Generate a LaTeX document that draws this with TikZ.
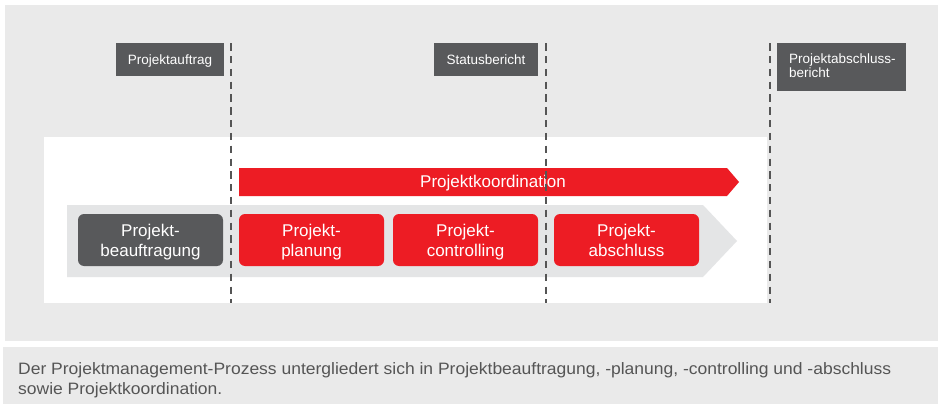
\documentclass[tikz,border=0pt]{standalone}
\usepackage{fontspec}
\setmainfont{Liberation Sans}
\definecolor{panelgrey}{HTML}{EAEAEA}
\definecolor{chevgrey}{HTML}{E4E5E6}
\definecolor{darkgrey}{HTML}{58595B}
\definecolor{pmred}{HTML}{ED1C24}
\definecolor{captiontext}{HTML}{555555}
\definecolor{dashgrey}{HTML}{555555}
\newcommand{\topstrut}{\rule{0pt}{17pt}}
\newcommand{\botstrut}{\rule[-3.6pt]{0pt}{3.6pt}}
\begin{document}
\begin{tikzpicture}[x=1pt,y=-1pt,
  phase/.style={rounded corners=6pt, minimum width=145pt, minimum height=52pt, inner sep=0pt,
    align=center, text=white, font=\fontsize{17}{20}\selectfont},
  lab/.style={fill=darkgrey, text=white, inner sep=0pt, minimum height=33pt,
    text height=11pt, text depth=0pt, font=\fontsize{13.5}{14}\selectfont},
  divider/.style={draw=dashgrey, line width=2.1pt, dash pattern=on 7.3pt off 5.5pt}
]
\useasboundingbox (0,0) rectangle (938,404);
% panels
\fill[panelgrey] (5,5) rectangle (938,341);
\fill[white] (44,137) rectangle (767,303);
% grey chevron
\fill[chevgrey] (67,205) -- (703,205) -- (737,241) -- (703,277) -- (67,277) -- cycle;
% red arrow
\fill[pmred] (239,168) -- (727,168) -- (739,182) -- (727,196) -- (239,196) -- cycle;
\node[text=white, font=\fontsize{17}{20}\selectfont, inner sep=0pt] (koord) at (493,183.3) {Projektkoordination};
% phases
\node[phase, fill=darkgrey] (beauf) at (150.5,240) {\topstrut Projekt-\\beauftragung\botstrut};
\node[phase, fill=pmred] (plan) at (311.5,240) {\topstrut Projekt-\\planung\botstrut};
\node[phase, fill=pmred] (contr) at (465.5,240) {\topstrut Projekt-\\controlling\botstrut};
\node[phase, fill=pmred] (abschl) at (626.5,240) {\topstrut Projekt-\\abschluss\botstrut};
% dividers
\coordinate (d1t) at (231,43.3); \coordinate (d1b) at (231,303);
\coordinate (d2t) at (546,43.3); \coordinate (d2b) at (546,303);
\coordinate (d3t) at (770,43.3); \coordinate (d3b) at (770,303);
\draw[divider] (d1t) -- (d1b);
\draw[divider] (d2t) -- (d2b);
\draw[divider] (d3t) -- (d3b);
% labels
\node[lab, minimum width=108pt] (auftrag) at (170,59.5) {Projektauftrag};
\node[lab, minimum width=104pt] (status) at (486,59.5) {Statusbericht};
\node[fill=darkgrey, anchor=north west, minimum width=129pt, minimum height=48pt, inner sep=0pt] (abschlb) at (777,43) {};
\node[anchor=north west, inner sep=0pt, align=left, text=white,
  font=\fontsize{13.5}{14}\selectfont] (abschlbtext) at (789,53.8) {Projektabschluss-\\bericht};
% caption
\fill[panelgrey] (3,347) rectangle (938,404);
\node[anchor=north west, inner sep=0pt, text=captiontext] (caption) at (18,359.8)
  {\scalebox{1.06}[1]{\fontsize{16.5}{20}\selectfont\begin{tabular}{@{}l@{}}
   Der Projektmanagement-Prozess untergliedert sich in Projektbeauftragung, -planung, -controlling und -abschluss\\
   sowie Projektkoordination.\end{tabular}}};
\end{tikzpicture}
\end{document}
